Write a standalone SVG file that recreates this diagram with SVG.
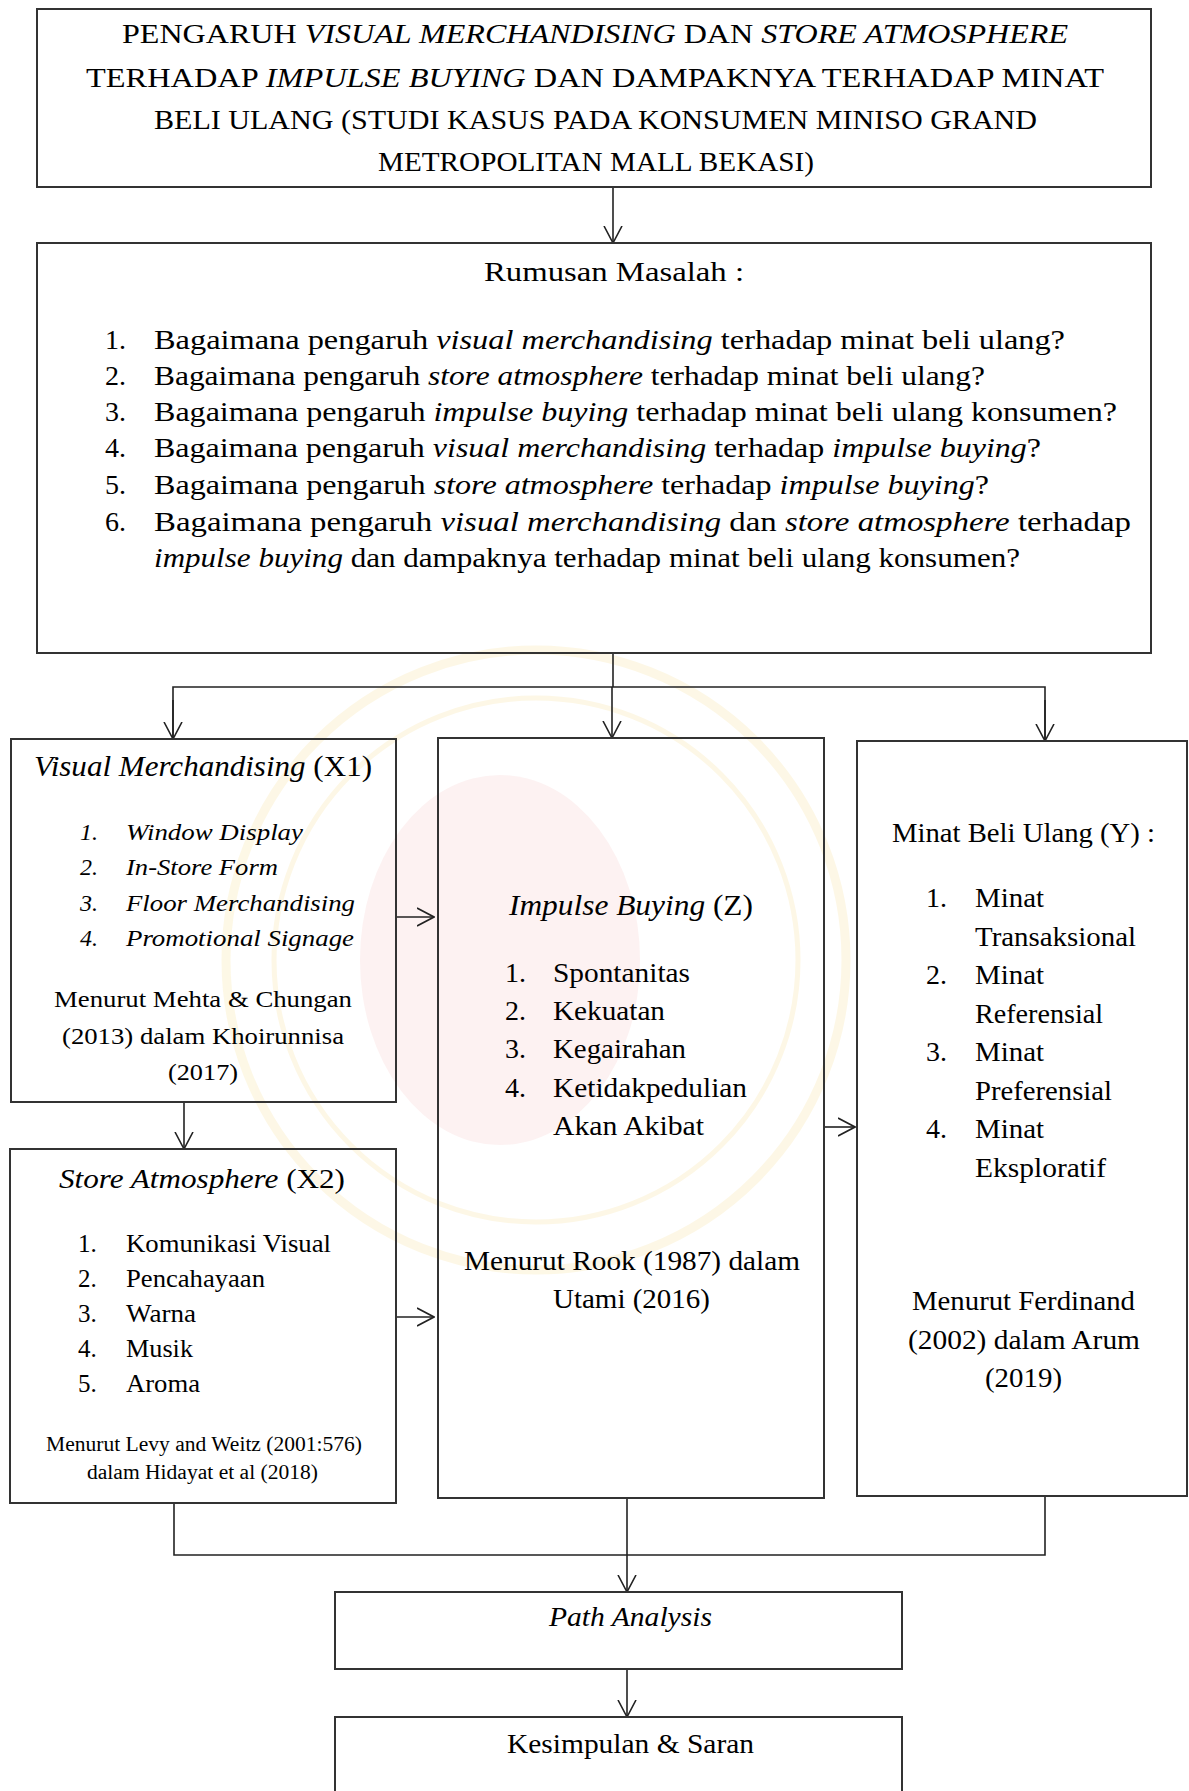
<svg xmlns="http://www.w3.org/2000/svg" width="1189" height="1791" viewBox="0 0 1189 1791">
<style>
.t{font-family:"Liberation Serif","Times New Roman",serif;fill:#000}
.i{font-style:italic}
.box{fill:none;stroke:#333;stroke-width:2}
.c{fill:none;stroke:#222;stroke-width:1.6}
.a{marker-end:url(#ah)}
.wm{fill:none;stroke:#fbefc8}
</style>
<defs>
<marker id="ah" viewBox="0 0 18 20" refX="17" refY="10" markerWidth="18" markerHeight="20" markerUnits="userSpaceOnUse" orient="auto">
<path d="M0,1 L17,10 L0,19" fill="none" stroke="#222" stroke-width="1.6"/>
</marker>
</defs>
<rect width="1189" height="1791" fill="#fff"/>
<g id="watermark" opacity="0.45">
<ellipse cx="500" cy="960" rx="140" ry="185" fill="#fbe3e3"/>
<circle class="wm" cx="536" cy="960" r="310" stroke-width="9"/>
<circle class="wm" cx="536" cy="960" r="262" stroke-width="5"/>
</g>
<g id="connectors">
<line class="c a" x1="613" y1="187" x2="613" y2="243"/>
<polyline class="c" points="613,653 613,687"/>
<polyline class="c" points="173,739 173,687 1045,687 1045,741"/>
<line class="c a" x1="173" y1="700" x2="173" y2="739"/>
<line class="c a" x1="612" y1="687" x2="612" y2="738"/>
<line class="c a" x1="1045" y1="700" x2="1045" y2="741"/>
<line class="c a" x1="396" y1="917" x2="434" y2="917"/>
<line class="c a" x1="184" y1="1102" x2="184" y2="1149"/>
<line class="c a" x1="396" y1="1317" x2="434" y2="1317"/>
<line class="c a" x1="824" y1="1127" x2="855" y2="1127"/>
<polyline class="c" points="174,1503 174,1555 1045,1555 1045,1496"/>
<line class="c a" x1="627" y1="1498" x2="627" y2="1592"/>
<line class="c a" x1="627" y1="1669" x2="627" y2="1717"/>
</g>
<g id="title">
<rect class="box" x="37" y="9" width="1114" height="178"/>
<text class="t" font-size="27" x="122" y="43" textLength="946" lengthAdjust="spacingAndGlyphs">PENGARUH <tspan class="i">VISUAL MERCHANDISING</tspan> DAN <tspan class="i">STORE ATMOSPHERE</tspan></text>
<text class="t" font-size="27" x="86" y="87" textLength="1018" lengthAdjust="spacingAndGlyphs">TERHADAP <tspan class="i">IMPULSE BUYING</tspan> DAN DAMPAKNYA TERHADAP MINAT</text>
<text class="t" font-size="27" x="154" y="129" textLength="883" lengthAdjust="spacingAndGlyphs">BELI ULANG (STUDI KASUS PADA KONSUMEN MINISO GRAND</text>
<text class="t" font-size="27" x="378" y="171" textLength="436" lengthAdjust="spacingAndGlyphs">METROPOLITAN MALL BEKASI)</text>
</g>
<g id="rumusan">
<rect class="box" x="37" y="243" width="1114" height="410"/>
<text class="t" font-size="28" x="484" y="281" textLength="260" lengthAdjust="spacingAndGlyphs">Rumusan Masalah :</text>
<text class="t" font-size="28" x="105" y="349">1.</text>
<text class="t" font-size="28" x="105" y="385">2.</text>
<text class="t" font-size="28" x="105" y="421">3.</text>
<text class="t" font-size="28" x="105" y="457">4.</text>
<text class="t" font-size="28" x="105" y="494">5.</text>
<text class="t" font-size="28" x="105" y="531">6.</text>
<text class="t" font-size="28" x="154" y="349" textLength="911" lengthAdjust="spacingAndGlyphs">Bagaimana pengaruh <tspan class="i">visual merchandising</tspan> terhadap minat beli ulang?</text>
<text class="t" font-size="28" x="154" y="385" textLength="831" lengthAdjust="spacingAndGlyphs">Bagaimana pengaruh <tspan class="i">store atmosphere</tspan> terhadap minat beli ulang?</text>
<text class="t" font-size="28" x="154" y="421" textLength="963" lengthAdjust="spacingAndGlyphs">Bagaimana pengaruh <tspan class="i">impulse buying</tspan> terhadap minat beli ulang konsumen?</text>
<text class="t" font-size="28" x="154" y="457" textLength="887" lengthAdjust="spacingAndGlyphs">Bagaimana pengaruh <tspan class="i">visual merchandising</tspan> terhadap <tspan class="i">impulse buying</tspan>?</text>
<text class="t" font-size="28" x="154" y="494" textLength="835" lengthAdjust="spacingAndGlyphs">Bagaimana pengaruh <tspan class="i">store atmosphere</tspan> terhadap <tspan class="i">impulse buying</tspan>?</text>
<text class="t" font-size="28" x="154" y="531" textLength="977" lengthAdjust="spacingAndGlyphs">Bagaimana pengaruh <tspan class="i">visual merchandising</tspan> dan <tspan class="i">store atmosphere</tspan> terhadap</text>
<text class="t" font-size="28" x="154" y="567" textLength="866" lengthAdjust="spacingAndGlyphs"><tspan class="i">impulse buying</tspan> dan dampaknya terhadap minat beli ulang konsumen?</text>
</g>
<g id="visual-merchandising">
<rect class="box" x="11" y="739" width="385" height="363"/>
<text class="t" font-size="29" x="34" y="776" textLength="338" lengthAdjust="spacingAndGlyphs"><tspan class="i">Visual Merchandising</tspan> (X1)</text>
<text class="t i" font-size="24" x="80" y="840">1.</text>
<text class="t i" font-size="24" x="80" y="875">2.</text>
<text class="t i" font-size="24" x="80" y="911">3.</text>
<text class="t i" font-size="24" x="80" y="946">4.</text>
<text class="t i" font-size="24" x="126" y="840" textLength="177" lengthAdjust="spacingAndGlyphs">Window Display</text>
<text class="t i" font-size="24" x="126" y="875" textLength="152" lengthAdjust="spacingAndGlyphs">In-Store Form</text>
<text class="t i" font-size="24" x="126" y="911" textLength="229" lengthAdjust="spacingAndGlyphs">Floor Merchandising</text>
<text class="t i" font-size="24" x="126" y="946" textLength="228" lengthAdjust="spacingAndGlyphs">Promotional Signage</text>
<text class="t" font-size="24" x="54" y="1007" textLength="298" lengthAdjust="spacingAndGlyphs">Menurut Mehta &amp; Chungan</text>
<text class="t" font-size="24" x="62" y="1044" textLength="282" lengthAdjust="spacingAndGlyphs">(2013) dalam Khoirunnisa</text>
<text class="t" font-size="24" x="168" y="1080" textLength="70" lengthAdjust="spacingAndGlyphs">(2017)</text>
</g>
<g id="store-atmosphere">
<rect class="box" x="10" y="1149" width="386" height="354"/>
<text class="t" font-size="28" x="59" y="1188" textLength="286" lengthAdjust="spacingAndGlyphs"><tspan class="i">Store Atmosphere</tspan> (X2)</text>
<text class="t" font-size="25" x="78" y="1252">1.</text>
<text class="t" font-size="25" x="78" y="1287">2.</text>
<text class="t" font-size="25" x="78" y="1322">3.</text>
<text class="t" font-size="25" x="78" y="1357">4.</text>
<text class="t" font-size="25" x="78" y="1392">5.</text>
<text class="t" font-size="25" x="126" y="1252" textLength="205" lengthAdjust="spacingAndGlyphs">Komunikasi Visual</text>
<text class="t" font-size="25" x="126" y="1287" textLength="139" lengthAdjust="spacingAndGlyphs">Pencahayaan</text>
<text class="t" font-size="25" x="126" y="1322" textLength="70" lengthAdjust="spacingAndGlyphs">Warna</text>
<text class="t" font-size="25" x="126" y="1357" textLength="67" lengthAdjust="spacingAndGlyphs">Musik</text>
<text class="t" font-size="25" x="126" y="1392" textLength="74" lengthAdjust="spacingAndGlyphs">Aroma</text>
<text class="t" font-size="20" x="46" y="1451" textLength="316" lengthAdjust="spacingAndGlyphs">Menurut Levy and Weitz (2001:576)</text>
<text class="t" font-size="20" x="87" y="1479" textLength="231" lengthAdjust="spacingAndGlyphs">dalam Hidayat et al (2018)</text>
</g>
<g id="impulse-buying">
<rect class="box" x="438" y="738" width="386" height="760"/>
<text class="t" font-size="29" x="509" y="915" textLength="244" lengthAdjust="spacingAndGlyphs"><tspan class="i">Impulse Buying</tspan> (Z)</text>
<text class="t" font-size="28" x="505" y="982">1.</text>
<text class="t" font-size="28" x="505" y="1020">2.</text>
<text class="t" font-size="28" x="505" y="1058">3.</text>
<text class="t" font-size="28" x="505" y="1097">4.</text>
<text class="t" font-size="28" x="553" y="982" textLength="137" lengthAdjust="spacingAndGlyphs">Spontanitas</text>
<text class="t" font-size="28" x="553" y="1020" textLength="112" lengthAdjust="spacingAndGlyphs">Kekuatan</text>
<text class="t" font-size="28" x="553" y="1058" textLength="133" lengthAdjust="spacingAndGlyphs">Kegairahan</text>
<text class="t" font-size="28" x="553" y="1097" textLength="194" lengthAdjust="spacingAndGlyphs">Ketidakpedulian</text>
<text class="t" font-size="28" x="553" y="1135" textLength="151" lengthAdjust="spacingAndGlyphs">Akan Akibat</text>
<text class="t" font-size="28" x="464" y="1270" textLength="336" lengthAdjust="spacingAndGlyphs">Menurut Rook (1987) dalam</text>
<text class="t" font-size="28" x="553" y="1308" textLength="157" lengthAdjust="spacingAndGlyphs">Utami (2016)</text>
</g>
<g id="minat-beli-ulang">
<rect class="box" x="857" y="741" width="330" height="755"/>
<text class="t" font-size="27" x="892" y="842" textLength="263" lengthAdjust="spacingAndGlyphs">Minat Beli Ulang (Y) :</text>
<text class="t" font-size="28" x="926" y="907">1.</text>
<text class="t" font-size="28" x="926" y="984">2.</text>
<text class="t" font-size="28" x="926" y="1061">3.</text>
<text class="t" font-size="28" x="926" y="1138">4.</text>
<text class="t" font-size="28" x="975" y="907" textLength="69" lengthAdjust="spacingAndGlyphs">Minat</text>
<text class="t" font-size="28" x="975" y="946" textLength="161" lengthAdjust="spacingAndGlyphs">Transaksional</text>
<text class="t" font-size="28" x="975" y="984" textLength="69" lengthAdjust="spacingAndGlyphs">Minat</text>
<text class="t" font-size="28" x="975" y="1023" textLength="128" lengthAdjust="spacingAndGlyphs">Referensial</text>
<text class="t" font-size="28" x="975" y="1061" textLength="69" lengthAdjust="spacingAndGlyphs">Minat</text>
<text class="t" font-size="28" x="975" y="1100" textLength="137" lengthAdjust="spacingAndGlyphs">Preferensial</text>
<text class="t" font-size="28" x="975" y="1138" textLength="69" lengthAdjust="spacingAndGlyphs">Minat</text>
<text class="t" font-size="28" x="975" y="1177" textLength="131" lengthAdjust="spacingAndGlyphs">Eksploratif</text>
<text class="t" font-size="28" x="912" y="1310" textLength="223" lengthAdjust="spacingAndGlyphs">Menurut Ferdinand</text>
<text class="t" font-size="28" x="908" y="1349" textLength="232" lengthAdjust="spacingAndGlyphs">(2002) dalam Arum</text>
<text class="t" font-size="28" x="985" y="1387" textLength="77" lengthAdjust="spacingAndGlyphs">(2019)</text>
</g>
<g id="path-analysis">
<rect class="box" x="335" y="1592" width="567" height="77"/>
<text class="t i" font-size="28" x="549" y="1626" textLength="163" lengthAdjust="spacingAndGlyphs">Path Analysis</text>
</g>
<g id="kesimpulan">
<rect class="box" x="335" y="1717" width="567" height="100"/>
<text class="t" font-size="28" x="507" y="1753" textLength="247" lengthAdjust="spacingAndGlyphs">Kesimpulan &amp; Saran</text>
</g>
</svg>
